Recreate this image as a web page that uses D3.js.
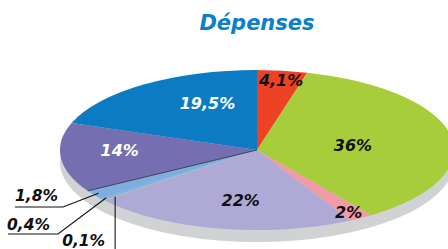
<!DOCTYPE html>
<html>
<head>
<meta charset="utf-8">
<script src="https://cdn.jsdelivr.net/npm/d3@7"></script>
<style>
  html, body { margin: 0; padding: 0; background: #fff; }
  svg { display: block; }
  text { font-family: "DejaVu Sans", Verdana, sans-serif; font-weight: bold; font-style: italic; }
</style>
</head>
<body>
<div id="chart"></div>
<script>
'use strict'

// data, clockwise from 12 o'clock
const categories = ['a', 'b', 'c', 'd', 'e', 'f', 'g', 'h', 'i'];
const values = [4.1, 36, 2, 22, 0.1, 0.4, 1.8, 14, 19.5];
const labels = ['4,1%', '36%', '2%', '22%', '0,1%', '0,4%', '1,8%', '14%', '19,5%'];
const colors = ['#ee4226', '#a8cd3b', '#f29aa7', '#afaad5', '#f5bf4c', '#79b6df', '#7eaee0', '#756fb1', '#0b7cc4'];
const title = 'Dépenses';

let width = 448, height = 249,
    cx = 257, cy = 150, rx = 197, ry = 80, depth = 12;

let svg = d3.select('#chart')
  .append('svg')
  .attr('width', width)
  .attr('height', height);

svg.append('text')
  .attr('x', 257)
  .attr('y', 30)
  .attr('text-anchor', 'middle')
  .attr('fill', '#0b7fc9')
  .attr('font-size', 21)
  .text(title);

// grey base under the tilted pie
svg.append('ellipse')
  .attr('cx', cx)
  .attr('cy', cy + depth)
  .attr('rx', rx)
  .attr('ry', ry)
  .attr('fill', '#d1d2d4');

let data = values.map((v, i) => ({k: categories[i], v: v, label: labels[i], color: colors[i]}));

let pie = d3.pie().sort(null).value(d => d.v);
let arcs = pie(data);

let arc = d3.arc().innerRadius(0).outerRadius(ry);

let g = svg.append('g')
  .attr('transform', `translate(${cx},${cy}) scale(${rx / ry},1)`);

g.selectAll('path')
  .data(arcs)
  .enter().append('path')
  .attr('d', arc)
  .attr('fill', d => d.data.color);

// point on the flattened ellipse for angle a at fraction f of radius
function pt(a, fx, fy) {
  return [cx + rx * fx * Math.sin(a), cy - ry * (fy === undefined ? fx : fy) * Math.cos(a)];
}

// thin dark edge between the purple slice and the small ones
let edge = pt(arcs[7].startAngle, 1);
svg.append('line')
  .attr('x1', cx).attr('y1', cy)
  .attr('x2', edge[0]).attr('y2', edge[1])
  .attr('stroke', '#2c2c3a')
  .attr('stroke-width', 0.8);

// inside labels: radial factors [fx, fy], null = outside
let inside = [[0.95, 0.88, '#111'], [0.495, 0.35, '#111'], [0.88, 0.91, '#111'], [0.42, 0.64, '#111'],
  null, null, null, [0.7, 0, '#fff'], [0.437, 0.71, '#fff']];

arcs.forEach((d, i) => {
  let o = inside[i];
  if (!o) return;
  let a = (d.startAngle + d.endAngle) / 2;
  let p = pt(a, o[0], o[1]);
  svg.append('text')
    .attr('x', p[0])
    .attr('y', p[1])
    .attr('dy', '0.36em')
    .attr('text-anchor', 'middle')
    .attr('font-size', 16)
    .attr('fill', o[2])
    .text(d.data.label);
});

// outside labels with leader lines: [elbowX, elbowY, endX, textX, textY]
let outside = {
  6: [63, 207, 15, 15, 201],
  5: [58, 234, 8, 7, 230]
};

[6, 5].forEach(i => {
  let d = arcs[i], o = outside[i];
  let a = (d.startAngle + d.endAngle) / 2;
  let p = pt(a, 0.97);
  svg.append('polyline')
    .attr('points', [p, [o[0], o[1]], [o[2], o[1]]].map(q => q.join(',')).join(' '))
    .attr('fill', 'none')
    .attr('stroke', '#111')
    .attr('stroke-width', 1.1);
  svg.append('text')
    .attr('x', o[3])
    .attr('y', o[4])
    .attr('font-size', 15.5)
    .attr('fill', '#111')
    .text(d.data.label);
});

// 0,1% hangs straight down
let d4 = arcs[4];
let p4 = pt((d4.startAngle + d4.endAngle) / 2, 0.97);
svg.append('line')
  .attr('x1', p4[0] + 7).attr('y1', p4[1] - 2)
  .attr('x2', p4[0] + 7).attr('y2', height)
  .attr('stroke', '#111')
  .attr('stroke-width', 1.1);
svg.append('text')
  .attr('x', p4[0] - 3)
  .attr('y', 246)
  .attr('text-anchor', 'end')
  .attr('font-size', 15.5)
  .attr('fill', '#111')
  .text(d4.data.label);
</script>
</body>
</html>
